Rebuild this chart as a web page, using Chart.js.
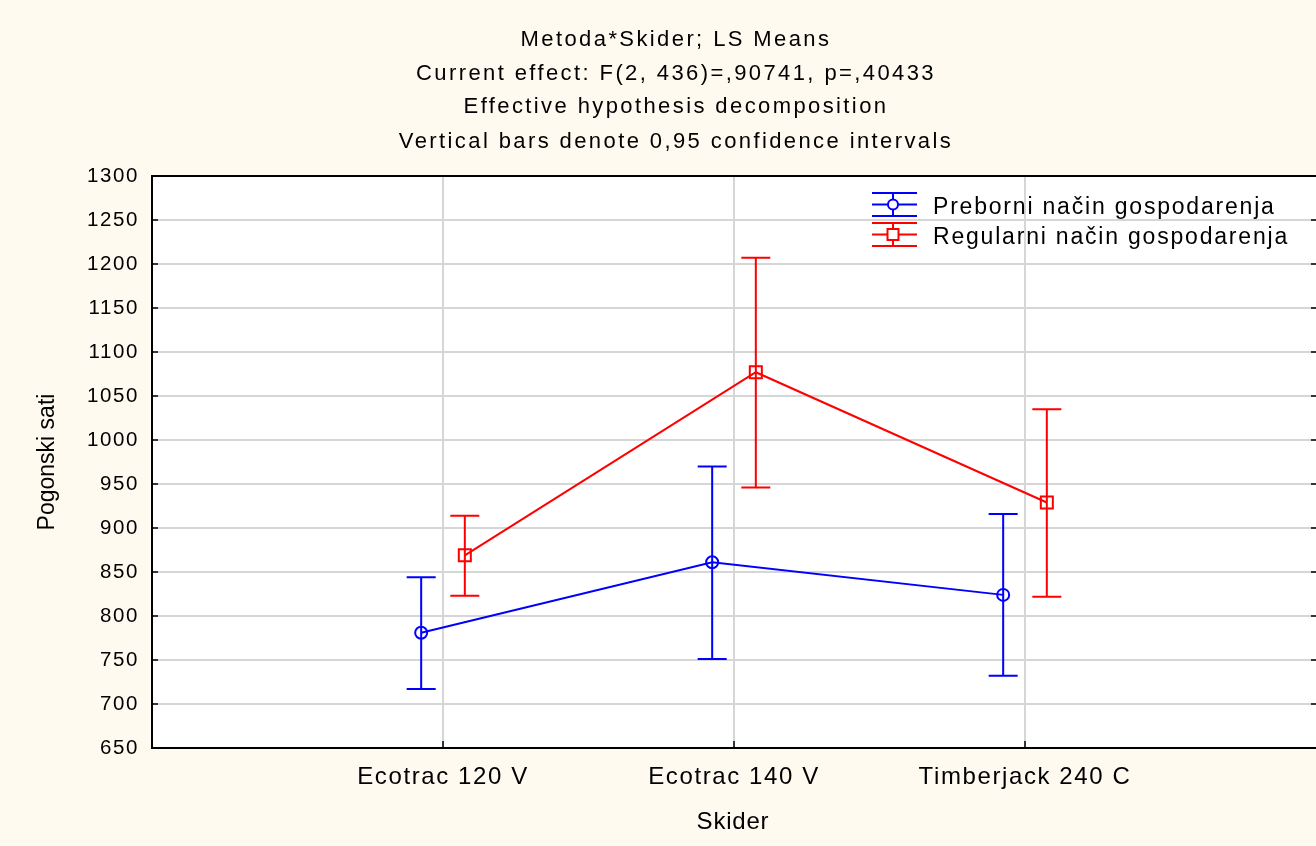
<!DOCTYPE html>
<html>
<head>
<meta charset="utf-8">
<script src="https://cdn.jsdelivr.net/npm/chart.js@4.4.1/dist/chart.umd.min.js"></script>
<style>
  body { margin: 0; background: #fffaf0; }
  canvas { display: block; }
</style>
</head>
<body>
<canvas id="lsMeansChart" width="1316" height="846"></canvas>
<script>
// categories and their positions on the x axis
const categories = ['Ecotrac 120 V', 'Ecotrac 140 V', 'Timberjack 240 C'];
const catPos = [1, 2, 3];
const seriesNames = ['Preborni način gospodarenja', 'Regularni način gospodarenja'];

// LS means with 0.95 confidence limits
const prebMean = [781, 861, 824];
const prebLow = [717, 751, 732];
const prebHigh = [844, 970, 916];
const reguMean = [869, 1077, 929];
const reguLow = [823, 946, 822];
const reguHigh = [914, 1207, 1035];

const titleLines = [
    'Metoda*Skider; LS Means',
    'Current effect: F(2, 436)=,90741, p=,40433',
    'Effective hypothesis decomposition',
    'Vertical bars denote 0,95 confidence intervals'
];

const FONT = '"Liberation Sans", Arial, sans-serif';
const BLUE = '#0000ff';
const RED = '#ff0000';
const shift = 0.075;

function points(means, dx) {
    return means.map((v, i) => ({ x: catPos[i] + dx, y: v }));
}

const errorBars = [
    { low: prebLow, high: prebHigh, dx: -shift, color: BLUE },
    { low: reguLow, high: reguHigh, dx: shift, color: RED }
];

const backgroundPlugin = {
    id: 'bg',
    beforeDraw(chart) {
        const { ctx, chartArea: a } = chart;
        ctx.save();
        ctx.fillStyle = '#fffaf0';
        ctx.fillRect(0, 0, chart.width, chart.height);
        ctx.fillStyle = '#ffffff';
        ctx.fillRect(a.left, a.top, a.right - a.left, a.bottom - a.top);
        ctx.restore();
        ctx.letterSpacing = '1.6px';
    }
};

const errorBarPlugin = {
    id: 'errorBars',
    beforeDatasetsDraw(chart) {
        const { ctx, scales: { x, y } } = chart;
        ctx.save();
        ctx.lineWidth = 2;
        errorBars.forEach(s => {
            ctx.strokeStyle = s.color;
            catPos.forEach((p, i) => {
                const px = x.getPixelForValue(p + s.dx);
                const top = y.getPixelForValue(s.high[i]);
                const bot = y.getPixelForValue(s.low[i]);
                ctx.beginPath();
                ctx.moveTo(px, top); ctx.lineTo(px, bot);
                ctx.moveTo(px - 14.5, top); ctx.lineTo(px + 14.5, top);
                ctx.moveTo(px - 14.5, bot); ctx.lineTo(px + 14.5, bot);
                ctx.stroke();
            });
        });
        ctx.restore();
    }
};

const decorPlugin = {
    id: 'decor',
    afterDraw(chart) {
        const { ctx, chartArea: a, scales: { x, y } } = chart;
        ctx.save();
        // frame (right edge falls just outside the picture)
        ctx.strokeStyle = '#000';
        ctx.lineWidth = 2;
        ctx.beginPath();
        ctx.moveTo(a.right + 2, a.top); ctx.lineTo(a.left, a.top);
        ctx.lineTo(a.left, a.bottom); ctx.lineTo(a.right + 2, a.bottom);
        ctx.stroke();
        // inward ticks
        ctx.lineWidth = 1.5;
        ctx.beginPath();
        y.ticks.forEach(t => {
            const py = y.getPixelForValue(t.value);
            ctx.moveTo(a.left, py); ctx.lineTo(a.left + 6, py);
            ctx.moveTo(a.right, py); ctx.lineTo(a.right - 5, py);
        });
        x.ticks.forEach(t => {
            const px = x.getPixelForValue(t.value);
            ctx.moveTo(px, a.bottom); ctx.lineTo(px, a.bottom - 7);
        });
        ctx.stroke();

        // titles
        ctx.fillStyle = '#000';
        ctx.textAlign = 'center';
        ctx.textBaseline = 'alphabetic';
        ctx.font = '22px ' + FONT;
        ctx.letterSpacing = '2.4px';
        const base = [46, 80, 113, 148];
        titleLines.forEach((t, i) => ctx.fillText(t, 676, base[i]));

        // axis titles
        ctx.font = '24px ' + FONT;
        ctx.letterSpacing = '0.8px';
        ctx.fillText('Skider', 733, 829);
        ctx.save();
        ctx.translate(54, 462);
        ctx.rotate(-Math.PI / 2);
        ctx.font = '23px ' + FONT;
        ctx.letterSpacing = '0px';
        ctx.fillText('Pogonski sati', 0, 0);
        ctx.restore();

        // legend
        const rows = [
            { y: 204.5, color: BLUE, mark: 'circle' },
            { y: 234.5, color: RED, mark: 'rect' }
        ];
        ctx.lineWidth = 2;
        rows.forEach((r, i) => {
            ctx.strokeStyle = r.color;
            ctx.beginPath();
            [-11.5, 0, 11.5].forEach(d => {
                ctx.moveTo(872, r.y + d); ctx.lineTo(917, r.y + d);
            });
            ctx.moveTo(893, r.y - 11.5); ctx.lineTo(893, r.y + 11.5);
            ctx.stroke();
            ctx.beginPath();
            if (r.mark === 'circle') {
                ctx.arc(893, r.y, 5, 0, Math.PI * 2);
            } else {
                ctx.rect(887.5, r.y - 5.5, 11, 11);
            }
            ctx.fillStyle = '#ffffff';
            ctx.fill();
            ctx.stroke();
            ctx.fillStyle = '#000';
            ctx.textAlign = 'left';
            ctx.font = '23px ' + FONT;
            ctx.letterSpacing = '1.8px';
            ctx.fillText(seriesNames[i], 933, r.y + 9);
        });
        ctx.restore();
    }
};

new Chart(document.getElementById('lsMeansChart'), {
    type: 'line',
    data: {
        datasets: [
            {
                label: seriesNames[0],
                data: points(prebMean, -shift),
                borderColor: BLUE,
                borderWidth: 2,
                pointStyle: 'circle',
                pointRadius: 6,
                pointBorderWidth: 2,
                pointBorderColor: BLUE,
                pointBackgroundColor: 'rgba(0,0,0,0)',
                tension: 0
            },
            {
                label: seriesNames[1],
                data: points(reguMean, shift),
                borderColor: RED,
                borderWidth: 2,
                pointStyle: 'rect',
                pointRadius: 8.5,
                pointBorderWidth: 2,
                pointBorderColor: RED,
                pointBackgroundColor: 'rgba(0,0,0,0)',
                tension: 0
            }
        ]
    },
    options: {
        responsive: false,
        animation: false,
        layout: { autoPadding: false, padding: { top: 176, right: 0, left: 0, bottom: 0 } },
        plugins: {
            legend: { display: false },
            title: { display: false },
            tooltip: { enabled: false }
        },
        scales: {
            x: {
                type: 'linear',
                min: 0,
                max: 4,
                afterBuildTicks: scale => {
                    scale.ticks = catPos.map(v => ({ value: v }));
                },
                afterFit: scale => { scale.height = 98; },
                grid: { color: '#d6d6d6', lineWidth: 2, drawTicks: false },
                border: { display: false },
                ticks: {
                    autoSkip: false,
                    maxRotation: 0,
                    padding: 15,
                    color: '#000',
                    font: { family: FONT, size: 24 },
                    callback: v => categories[catPos.indexOf(v)]
                }
            },
            y: {
                min: 650,
                max: 1300,
                afterFit: scale => { scale.width = 152; },
                grid: { color: '#d6d6d6', lineWidth: 2, drawTicks: false },
                border: { display: false },
                ticks: {
                    stepSize: 50,
                    padding: 13,
                    color: '#000',
                    font: { family: FONT, size: 20.5 },
                    callback: v => String(v)
                }
            }
        }
    },
    plugins: [backgroundPlugin, errorBarPlugin, decorPlugin]
});
</script>
</body>
</html>
